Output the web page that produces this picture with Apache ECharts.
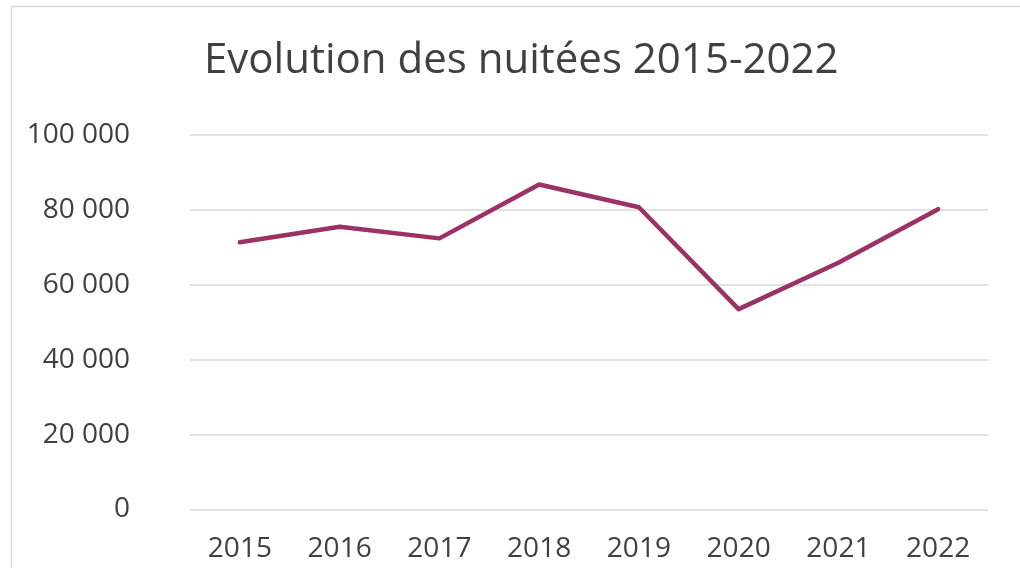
<!DOCTYPE html>
<html lang="fr">
<head>
    <meta charset="UTF-8">
    <title>Evolution des nuitées 2015-2022</title>
    <script src="https://cdn.jsdelivr.net/npm/echarts@6/dist/echarts.min.js"></script>
    <style>
        html, body { margin: 0; padding: 0; background: #fff; }
    </style>
</head>
<body>
<div id="box" style="width: 1020px;height: 568px;"></div>

<script>
    // données
    var annees = ["2015", "2016", "2017", "2018", "2019", "2020", "2021", "2022"];
    var nuitees = [71350, 75500, 72400, 86800, 80700, 53500, 65900, 80200];
    var yTicks = [0, 20000, 40000, 60000, 80000, 100000];

    var police = "'Open Sans', 'Noto Sans', sans-serif";
    var gris = "#404040";

    var myChart = echarts.init(document.getElementById("box"));
    var option = {
        backgroundColor: "#fff",
        animation: false,
        //titre
        title: {
            text: "Evolution des nuitées 2015-2022",
            left: 199,
            top: 35,
            textStyle: { fontFamily: police, fontSize: 42, fontWeight: "normal", color: gris }
        },
        //cadre du graphique
        graphic: [{
            type: "rect",
            shape: { x: 11.5, y: 6.5, width: 1040, height: 600 },
            style: { fill: "none", stroke: "#d9d9d9", lineWidth: 1.5 },
            silent: true
        }],
        grid: { left: 190, right: 32, top: 135, bottom: 58.5 },
        xAxis: {
            type: "category",
            data: annees,
            boundaryGap: true,
            axisLine: { show: false },
            axisTick: { show: false },
            axisLabel: { fontFamily: police, fontSize: 28, color: gris, margin: 26 }
        },
        yAxis: {
            type: "value",
            min: yTicks[0],
            max: yTicks[yTicks.length - 1],
            interval: yTicks[1] - yTicks[0],
            axisLine: { show: false },
            axisTick: { show: false },
            splitLine: { lineStyle: { color: "#d9d9d9", width: 1.5 } },
            axisLabel: {
                fontFamily: police, fontSize: 28, color: gris, margin: 60,
                formatter: function (v) { return String(v).replace(/\B(?=(\d{3})+(?!\d))/g, " "); }
            }
        },
        series: [{
            name: "Nuitées",
            type: "line",
            data: nuitees,
            symbol: "none",
            lineStyle: { color: "#9b3164", width: 4.5, cap: "round", join: "round" }
        }]
    };
    myChart.setOption(option);
</script>
</body>
</html>
